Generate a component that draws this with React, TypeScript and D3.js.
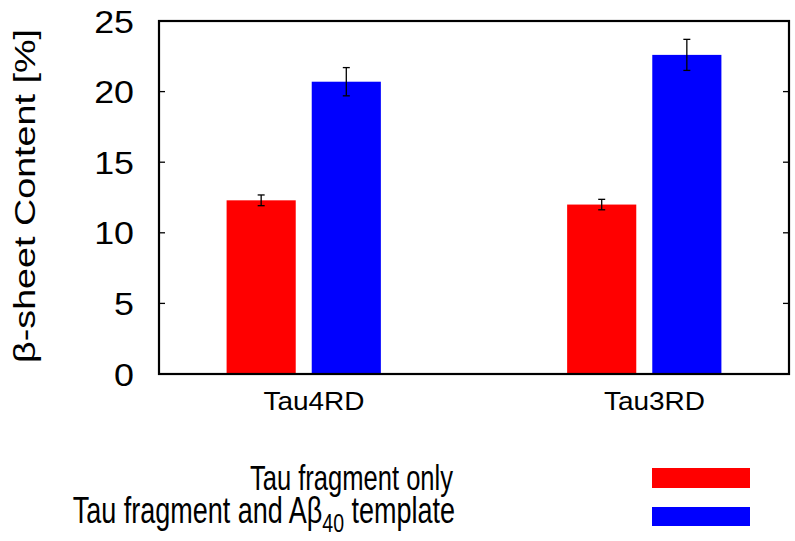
import * as d3 from "d3"

const categories = ["Tau4RD", "Tau3RD"]
const seriesNames = ["Tau fragment only", "Tau fragment and Aβ"]
const fragmentOnly = [12.3, 12.0]
const fragmentOnlyErr = [0.38, 0.37]
const withTemplate = [20.7, 22.6]
const withTemplateErr = [1.0, 1.1]
const yTicks = [0, 5, 10, 15, 20, 25]
const colors = ["#ff0000", "#0000ff"]

const W = 795
const H = 541
const plot = { left: 159, right: 789, top: 21, bottom: 374 }
const font = "'Liberation Sans', Arial, Helvetica, sans-serif"

const App = () => {
  const x = d3.scaleLinear().domain([-0.425, 1.425]).range([plot.left, plot.right])
  const y = d3.scaleLinear().domain([0, 25]).range([plot.bottom, plot.top])

  // histogram cluster geometry (in cluster units)
  const barW = 0.203
  const offsets = [-0.125, 0.125]
  const series = [
    { values: fragmentOnly, errs: fragmentOnlyErr },
    { values: withTemplate, errs: withTemplateErr },
  ]

  return (
    <div style={{ position: "absolute", left: 0, top: 0 }}>
      <svg width={W} height={H} style={{ display: "block", background: "#fff" }} fontFamily={font}>
        {/* bars + error bars */}
        {series.map((s, si) =>
          categories.map((c, ci) => {
            const cx = ci + offsets[si]
            const x0 = x(cx - barW / 2)
            const x1 = x(cx + barW / 2)
            const xm = x(cx)
            const v = s.values[ci]
            const e = s.errs[ci]
            return (
              <g key={`${si}-${c}`}>
                <rect x={x0} y={y(v)} width={x1 - x0} height={y(0) - y(v)} fill={colors[si]} />
                <line x1={xm} x2={xm} y1={y(v + e)} y2={y(v - e)} stroke="#000" strokeWidth={1.3} />
                <line x1={xm - 3.5} x2={xm + 3.5} y1={y(v + e)} y2={y(v + e)} stroke="#000" strokeWidth={1.3} />
                <line x1={xm - 3.5} x2={xm + 3.5} y1={y(v - e)} y2={y(v - e)} stroke="#000" strokeWidth={1.3} />
              </g>
            )
          })
        )}

        {/* y ticks on both sides, pointing inward */}
        {yTicks.map(t => (
          <g key={t}>
            <line x1={plot.left} x2={plot.left + 6} y1={y(t)} y2={y(t)} stroke="#000" strokeWidth={1.3} />
            <line x1={plot.right - 6} x2={plot.right} y1={y(t)} y2={y(t)} stroke="#000" strokeWidth={1.3} />
            <text
              transform={`translate(134,${y(t) + 11.5}) scale(1.12,1)`}
              textAnchor="end"
              fontSize={32}
              fill="#000"
            >
              {t}
            </text>
          </g>
        ))}

        {/* frame */}
        <rect
          x={plot.left}
          y={plot.top}
          width={plot.right - plot.left}
          height={plot.bottom - plot.top}
          fill="none"
          stroke="#000"
          strokeWidth={2.2}
        />

        {/* category labels */}
        {categories.map((c, ci) => (
          <text
            key={c}
            transform={`translate(${x(ci + 0.03)},410) scale(1.12,1)`}
            textAnchor="middle"
            fontSize={25}
            fill="#000"
          >
            {c}
          </text>
        ))}

        {/* y axis title */}
        <text
          transform={`translate(35,196) rotate(-90) scale(1.3,1)`}
          textAnchor="middle"
          fontSize={29}
          fill="#000"
        >
          β-sheet Content [%]
        </text>

        {/* legend */}
        <text transform="translate(453,490) scale(0.71,1)" textAnchor="end" fontSize={36} fill="#000">
          {seriesNames[0]}
        </text>
        <text transform="translate(455,523) scale(0.75,1)" textAnchor="end" fontSize={36} fill="#000">
          {seriesNames[1]}
          <tspan fontSize={26} dy={9}>40</tspan>
          <tspan dy={-9}> template</tspan>
        </text>
        <rect x={652} y={468} width={98} height={20} fill={colors[0]} />
        <rect x={652} y={507} width={98} height={19} fill={colors[1]} />
      </svg>
    </div>
  )
}

export default App
